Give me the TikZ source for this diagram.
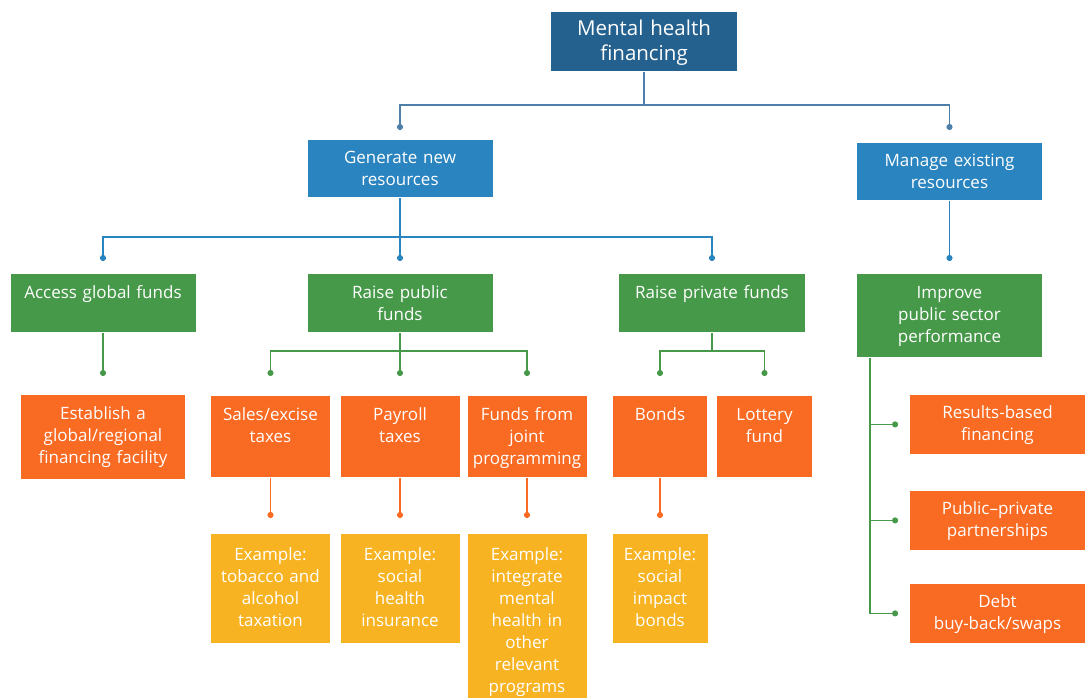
\documentclass[tikz,border=0pt]{standalone}
\usepackage{fontspec}
\setmainfont{Open Sans}
\usetikzlibrary{arrows.meta}
\definecolor{navy}{HTML}{24618F}
\definecolor{skyblue}{HTML}{2A84BF}
\definecolor{steel}{HTML}{4C80AA}
\definecolor{leaf}{HTML}{47994A}
\definecolor{tangerine}{HTML}{F96A23}
\definecolor{amber}{HTML}{F7B322}

\begin{document}
\begin{tikzpicture}[x=1pt,y=-1pt,line width=1.8pt,
	card/.style={anchor=north,align=center,text=white,inner sep=0pt,font=\fontsize{17}{22}\selectfont},
	boxh/.style 2 args={text height=#1,text depth=#2},
	dotend/.style={-{Circle[length=6pt,width=6pt]}}]
	\useasboundingbox (0,0) rectangle (1085,698);

	%TOP
	\node[card,fill=navy,text width=186pt,boxh={24pt}{35pt},font=\fontsize{20.5}{25}\selectfont] (mhf) at (644,11) {Mental health\\financing};

	%SECOND LEVEL
	\node[card,fill=skyblue,text width=185pt,boxh={24pt}{33pt}] (gen) at (400,139) {Generate new\\resources};
	\node[card,fill=skyblue,text width=185pt,boxh={24pt}{33pt}] (man) at (949.5,142) {Manage existing\\resources};

	%GREEN
	\node[card,fill=leaf,text width=185pt,boxh={25pt}{33pt}] (acc)  at (103,273) {Access global funds};
	\node[card,fill=leaf,text width=185pt,boxh={25pt}{33pt}] (pub)  at (400,273) {Raise public\\funds};
	\node[card,fill=leaf,text width=186pt,boxh={25pt}{33pt}] (priv) at (712,273) {Raise private funds};
	\node[card,fill=leaf,text width=185pt,boxh={25pt}{58pt}] (imp)  at (949.5,273) {Improve\\public sector\\performance};

	%ORANGE
	\node[card,fill=tangerine,text width=164pt,boxh={25pt}{59pt}] (fac) at (103,394) {Establish a\\global/regional\\financing facility};
	\node[card,fill=tangerine,text width=119pt,boxh={25pt}{56pt}] (sales)   at (270.5,395) {Sales/excise\\taxes};
	\node[card,fill=tangerine,text width=119pt,boxh={25pt}{56pt}] (payroll) at (400,395) {Payroll\\taxes};
	\node[card,fill=tangerine,text width=119pt,boxh={25pt}{56pt}] (joint)   at (527,395) {Funds from\\joint\\programming};
	\node[card,fill=tangerine,text width=94pt,boxh={25pt}{56pt}]  (bonds)   at (660,395) {Bonds};
	\node[card,fill=tangerine,text width=95pt,boxh={25pt}{56pt}]  (lottery) at (764.5,395) {Lottery\\fund};
	%
	\node[card,fill=tangerine,text width=175pt,boxh={24pt}{35pt}] (rbf)  at (997.5,394) {Results-based\\financing};
	\node[card,fill=tangerine,text width=175pt,boxh={24pt}{35pt}] (ppp)  at (997.5,490) {Public--private\\partnerships};
	\node[card,fill=tangerine,text width=175pt,boxh={24pt}{35pt}] (debt) at (997.5,583) {Debt\\buy-back/swaps};

	%EXAMPLES
	\node[card,fill=amber,text width=119pt,boxh={27pt}{82pt}]  (exsales) at (270.5,533) {Example:\\tobacco and\\alcohol\\taxation};
	\node[card,fill=amber,text width=119pt,boxh={27pt}{82pt}]  (expay)   at (400,533) {Example:\\social\\health\\insurance};
	\node[card,fill=amber,text width=119pt,boxh={27pt}{138pt}] (exjoint) at (527,533) {Example:\\integrate\\mental\\health in\\other\\relevant\\programs};
	\node[card,fill=amber,text width=95pt,boxh={27pt}{82pt}]   (exbonds) at (660,533) {Example:\\social\\impact\\bonds};

	%BLUE LINES
	\draw[steel] (mhf.south) -- ++(0,33) coordinate (topbus);
	\draw[steel,dotend] (topbus) -| ([yshift=9pt]gen.north);
	\draw[steel,dotend] (topbus) -| ([yshift=12pt]man.north);
	%
	\draw[skyblue] (gen.south) -- ++(0,39) coordinate (genbus);
	\draw[skyblue,dotend] (genbus) -| ([yshift=12pt]acc.north);
	\draw[skyblue,dotend] (genbus) -- ([yshift=12pt]pub.north);
	\draw[skyblue,dotend] (genbus) -| ([yshift=12pt]priv.north);
	\draw[skyblue,dotend] (man.south) -- ([yshift=12pt]imp.north);

	%GREEN LINES
	\draw[leaf,dotend] (acc.south) -- ([yshift=18pt]fac.north);
	\draw[leaf] (pub.south) -- ++(0,18) coordinate (pubbus);
	\draw[leaf,dotend] (pubbus) -| ([yshift=19pt]sales.north);
	\draw[leaf,dotend] (pubbus) -- ([yshift=19pt]payroll.north);
	\draw[leaf,dotend] (pubbus) -| ([yshift=19pt]joint.north);
	\draw[leaf] (priv.south) -- ++(0,18) coordinate (privbus);
	\draw[leaf,dotend] (privbus) -| ([yshift=19pt]bonds.north);
	\draw[leaf,dotend] (privbus) -| ([yshift=19pt]lottery.north);
	%
	\draw[leaf,dotend] ([xshift=14pt]imp.south west) |- ([xshift=-11pt]rbf.west);
	\draw[leaf,dotend] ([xshift=14pt]imp.south west) |- ([xshift=-11pt]ppp.west);
	\draw[leaf,dotend] ([xshift=14pt]imp.south west) |- ([xshift=-11pt]debt.west);

	%ORANGE LINES
	\draw[tangerine,dotend] (sales.south)   -- ([yshift=15pt]exsales.north);
	\draw[tangerine,dotend] (payroll.south) -- ([yshift=15pt]expay.north);
	\draw[tangerine,dotend] (joint.south)   -- ([yshift=15pt]exjoint.north);
	\draw[tangerine,dotend] (bonds.south)   -- ([yshift=15pt]exbonds.north);
\end{tikzpicture}
\end{document}
